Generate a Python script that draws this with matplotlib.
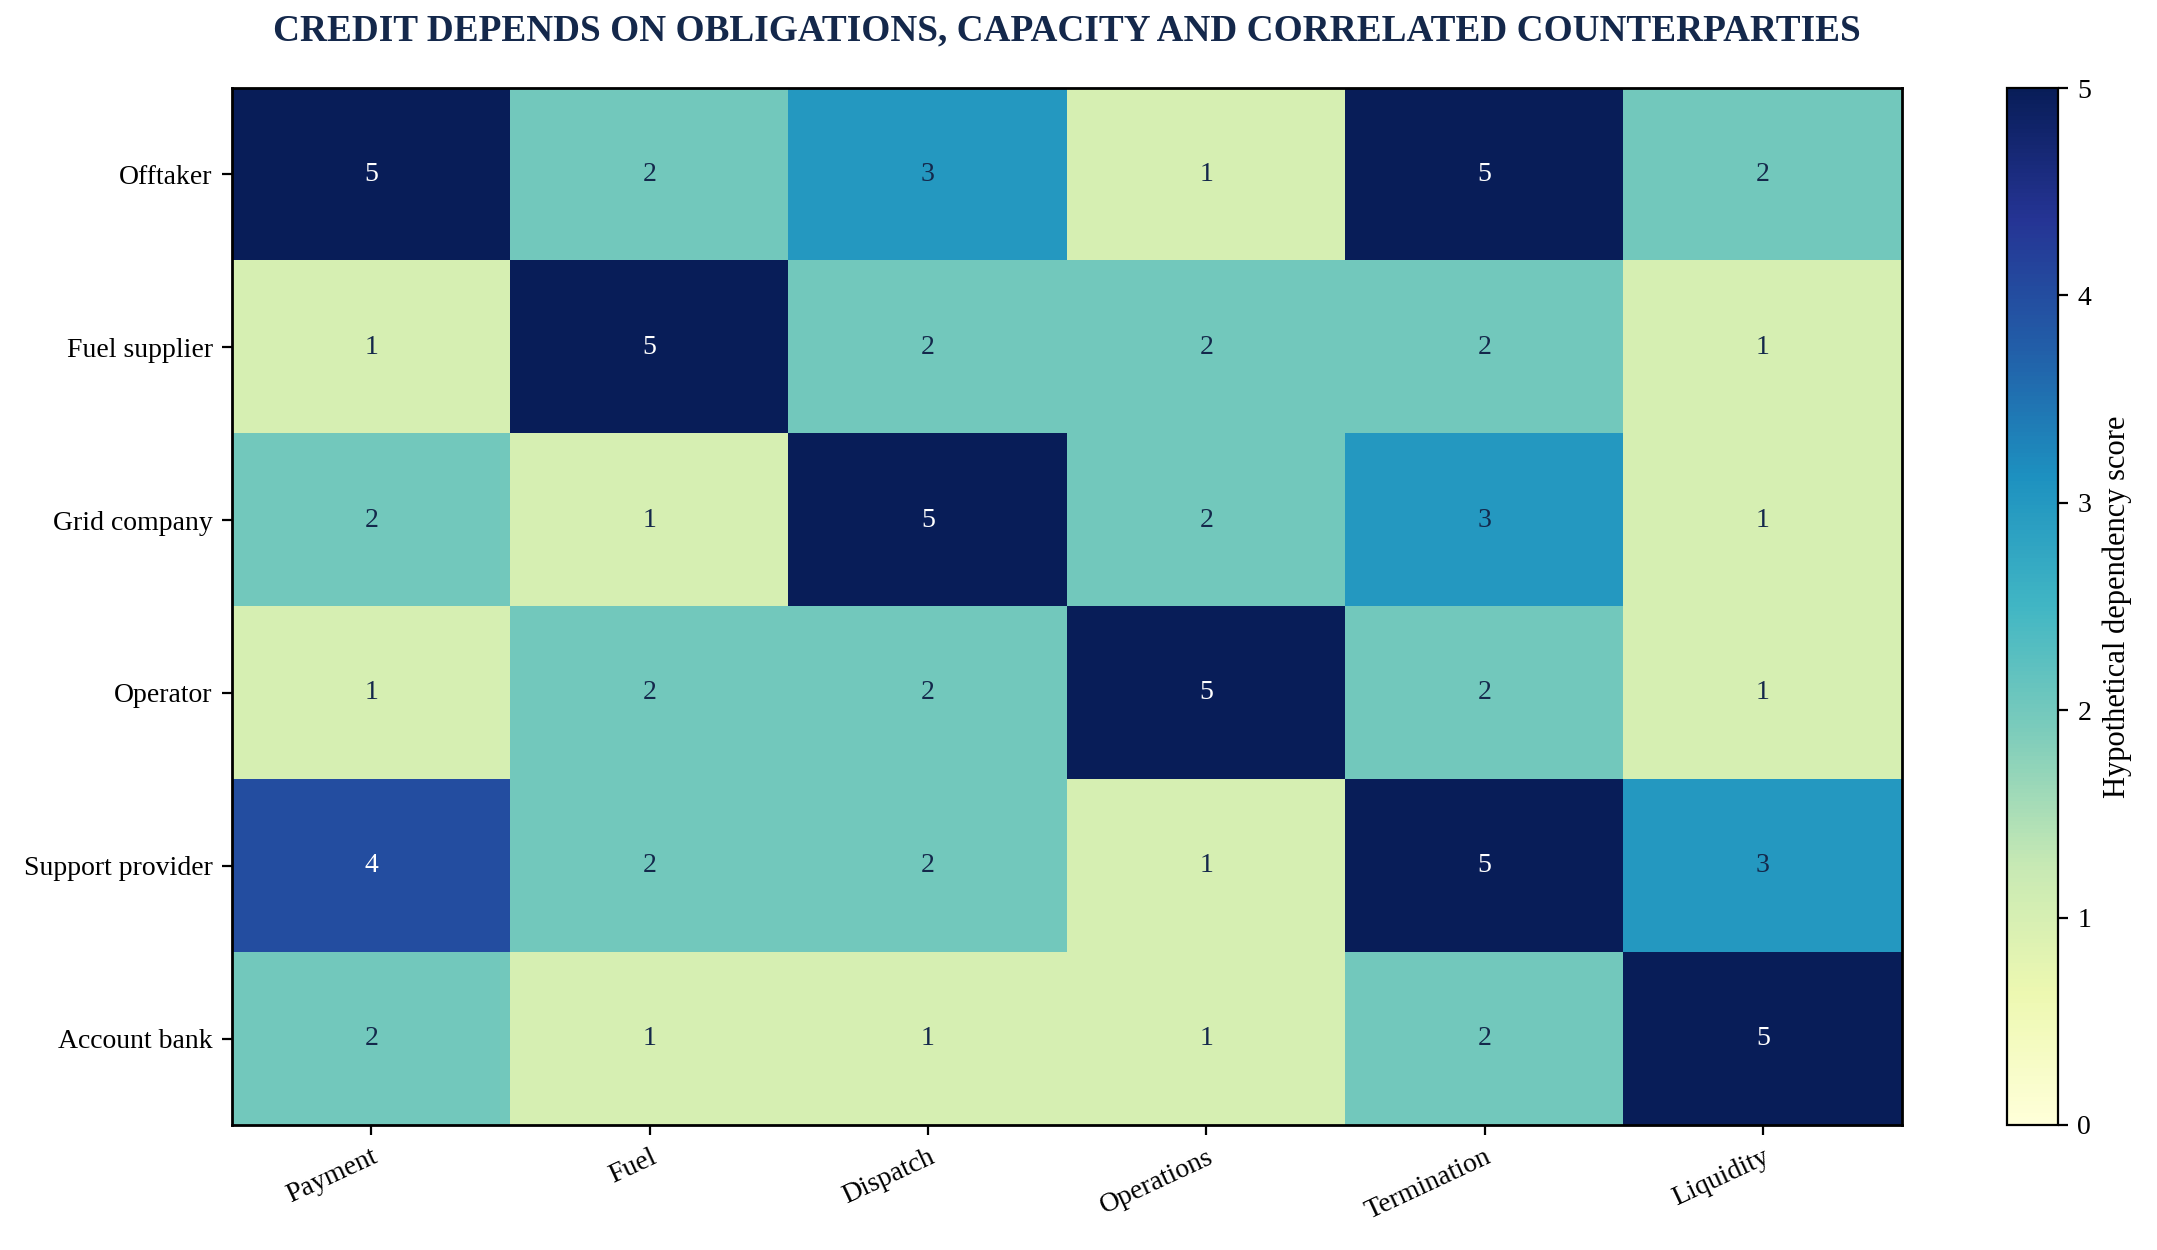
import numpy as np
import matplotlib
matplotlib.use("Agg")
import matplotlib.pyplot as plt

plt.rcParams['font.family'] = ['Liberation Serif', 'DejaVu Serif']

# 数据
counterparties = ['Offtaker', 'Fuel supplier', 'Grid company', 'Operator',
                  'Support provider', 'Account bank']
channels = ['Payment', 'Fuel', 'Dispatch', 'Operations', 'Termination', 'Liquidity']
scores = [
    [5, 2, 3, 1, 5, 2],
    [1, 5, 2, 2, 2, 1],
    [2, 1, 5, 2, 3, 1],
    [1, 2, 2, 5, 2, 1],
    [4, 2, 2, 1, 5, 3],
    [2, 1, 1, 1, 2, 5],
]

data = np.array(scores)

fig = plt.figure(figsize=(10.785, 6.25), dpi=200)
ax_l, ax_b, ax_w, ax_h = 0.1076, 0.100, 0.7742, 0.8296
ax = fig.add_axes([ax_l, ax_b, ax_w, ax_h])
cax = fig.add_axes([0.9305, ax_b, 0.0236, ax_h])

im = ax.imshow(data, cmap='YlGnBu', vmin=0, vmax=5, aspect='auto')

# 单元格数字
for i in range(data.shape[0]):
    for j in range(data.shape[1]):
        v = data[i, j]
        ax.text(j, i, '%d' % v, ha='center', va='center', fontsize=10,
                color='white' if v >= 4 else '#14284b')

ax.set_xticks(range(len(channels)))
ax.set_xticklabels(channels, rotation=25, ha='right', rotation_mode='anchor',
                   fontsize=10)
ax.set_yticks(range(len(counterparties)))
ax.set_yticklabels(counterparties, fontsize=10)
for s in ax.spines.values():
    s.set_linewidth(1.0)

cb = fig.colorbar(im, cax=cax)
cb.set_label('Hypothetical dependency score', fontsize=11)
cb.ax.tick_params(labelsize=10)

fig.text(ax_l + ax_w / 2, 0.975,
         'CREDIT DEPENDS ON OBLIGATIONS, CAPACITY AND CORRELATED COUNTERPARTIES',
         ha='center', va='center', fontsize=13.4, fontweight='bold', color='#14284b')

fig.savefig('out.png', dpi=200)
